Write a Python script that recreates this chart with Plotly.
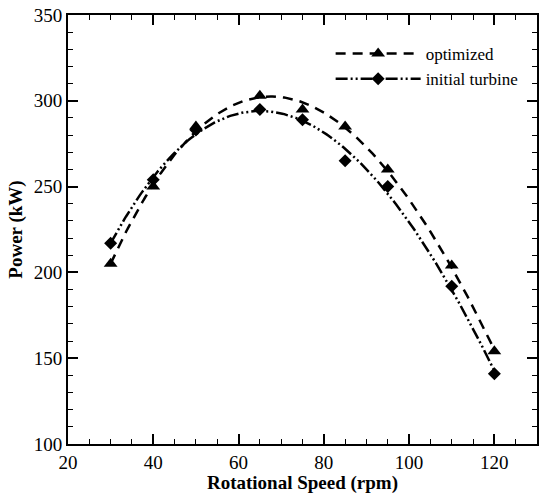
import numpy as np
import plotly.graph_objects as go

# rotational speed (rpm)
speed = [30, 40, 50, 65, 75, 85, 95, 110, 120]
# power (kW)
power_optimized = [205, 250, 285, 303, 295, 285, 260, 204, 154]
power_initial = [217, 254, 283, 295, 289, 265, 250, 192, 141]

FONT = "Liberation Serif"


def trend(x, y, deg=3):
    """Least-squares polynomial trend line through the measured points."""
    c = np.polyfit(x, y, deg)
    xs = np.linspace(min(x), max(x), 200)
    return xs, np.polyval(c, xs)


fig = go.Figure()

series = [
    ("optimized", power_optimized, "triangle-up", 12, "10px,7px"),
    ("initial turbine", power_initial, "diamond", 10, "12px,3px,2px,3px,2px,3px"),
]

for name, y, sym, size, dash in series:
    xs, ys = trend(speed, y)
    # fitted curve
    fig.add_trace(go.Scatter(
        x=xs, y=ys, mode="lines",
        line=dict(color="black", width=2.5, dash=dash),
        showlegend=False, hoverinfo="skip",
    ))
    # measured points
    fig.add_trace(go.Scatter(
        x=speed, y=y, mode="markers", name=name,
        marker=dict(symbol=sym, size=size, color="black"),
        showlegend=False,
    ))
    # legend entry: line + marker
    fig.add_trace(go.Scatter(
        x=[None], y=[None], mode="lines+markers", name=name,
        line=dict(color="black", width=2.5, dash=dash),
        marker=dict(symbol=sym, size=size, color="black"),
    ))

axis_common = dict(
    showgrid=False, zeroline=False,
    showline=True, linecolor="black", linewidth=2, mirror="ticks",
    ticks="inside", ticklen=10, tickwidth=2, tickcolor="black",
    tickfont=dict(family=FONT, size=19, color="black"),
)

fig.update_xaxes(
    range=[20, 130], tick0=20, dtick=20,
    minor=dict(ticks="inside", ticklen=5, tickwidth=1, dtick=5, tickcolor="black"),
    title=dict(text="<b>Rotational Speed (rpm)</b>", font=dict(family=FONT, size=19, color="black"), standoff=6),
    **axis_common,
)
fig.update_yaxes(
    range=[100, 350], tick0=100, dtick=50,
    minor=dict(ticks="inside", ticklen=5, tickwidth=1, dtick=10, tickcolor="black"),
    title=dict(text="<b>Power (kW)</b>", font=dict(family=FONT, size=19, color="black"), standoff=6),
    **axis_common,
)

fig.update_layout(
    width=541, height=494,
    margin=dict(l=68, r=2, t=15, b=50),
    plot_bgcolor="white", paper_bgcolor="white",
    font=dict(family=FONT, color="black"),
    legend=dict(
        x=0.56, y=0.951, xanchor="left", yanchor="top",
        bgcolor="rgba(0,0,0,0)", itemwidth=85,
        font=dict(family=FONT, size=17, color="black"),
        tracegroupgap=0,
    ),
)

fig.write_html(
    "out.html",
    config={"displayModeBar": False},
    post_script="document.body.style.margin='0';",
)
